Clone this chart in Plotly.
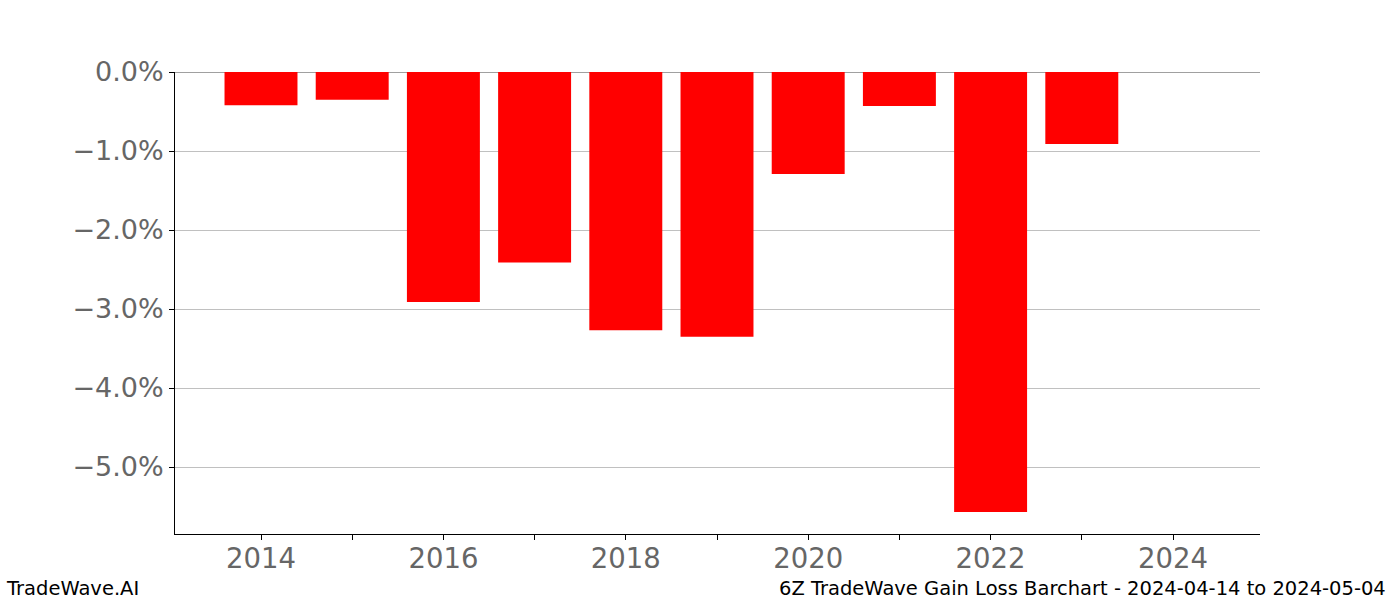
import plotly.graph_objects as go

years = [2014, 2015, 2016, 2017, 2018, 2019, 2020, 2021, 2022, 2023]
values_pct = [-0.42, -0.35, -2.91, -2.41, -3.27, -3.35, -1.29, -0.43, -5.57, -0.91]

x_tick_vals = list(range(2014, 2025))
x_tick_text = [str(y) if y % 2 == 0 else "" for y in x_tick_vals]
y_tick_vals = [0, -1, -2, -3, -4, -5]
y_tick_text = ["0.0%", "\u22121.0%", "\u22122.0%", "\u22123.0%", "\u22124.0%", "\u22125.0%"]

title_left = "TradeWave.AI"
title_right = "6Z TradeWave Gain Loss Barchart - 2024-04-14 to 2024-05-04"

fig = go.Figure()
fig.add_trace(go.Bar(x=years, y=values_pct, width=0.8, marker=dict(color="#ff0000", line=dict(width=0))))

fig.update_layout(
    width=1400, height=600,
    margin=dict(l=175, r=140, t=72, b=66),
    paper_bgcolor="white", plot_bgcolor="white",
    showlegend=False,
    font=dict(family="DejaVu Sans", color="#666666"),
    xaxis=dict(
        range=[2013.057, 2024.954],
        tickvals=x_tick_vals, ticktext=x_tick_text,
        ticks="outside", ticklen=5, tickwidth=1, tickcolor="black",
        ticklabelstandoff=-5,
        showline=True, linecolor="black", linewidth=1,
        showgrid=False, zeroline=False,
        tickfont=dict(size=27.5, color="#666666"),
    ),
    yaxis=dict(
        range=[-5.848, 0],
        tickvals=y_tick_vals, ticktext=y_tick_text,
        ticks="outside", ticklen=5, tickwidth=1, tickcolor="black",
        showline=True, linecolor="black", linewidth=1,
        showgrid=True, gridcolor="#c0c0c0", gridwidth=1,
        zeroline=False,
        tickfont=dict(size=27, color="#666666"),
    ),
    shapes=[dict(type="line", xref="paper", yref="y", x0=0, x1=1, y0=0, y1=0,
                 line=dict(color="#808080", width=1.5), layer="below")],
    annotations=[
        dict(text=title_left, xref="paper", yref="paper", x=-175/1085 + 4/1085, y=-(588-534)/462,
             xanchor="left", yanchor="middle", showarrow=False,
             font=dict(size=19.5, color="black", family="DejaVu Sans")),
        dict(text=title_right, xref="paper", yref="paper", x=1 + 128/1085, y=-(588-534)/462,
             xanchor="right", yanchor="middle", showarrow=False,
             font=dict(size=19.5, color="black", family="DejaVu Sans")),
    ],
)

fig.write_html("out.html")
